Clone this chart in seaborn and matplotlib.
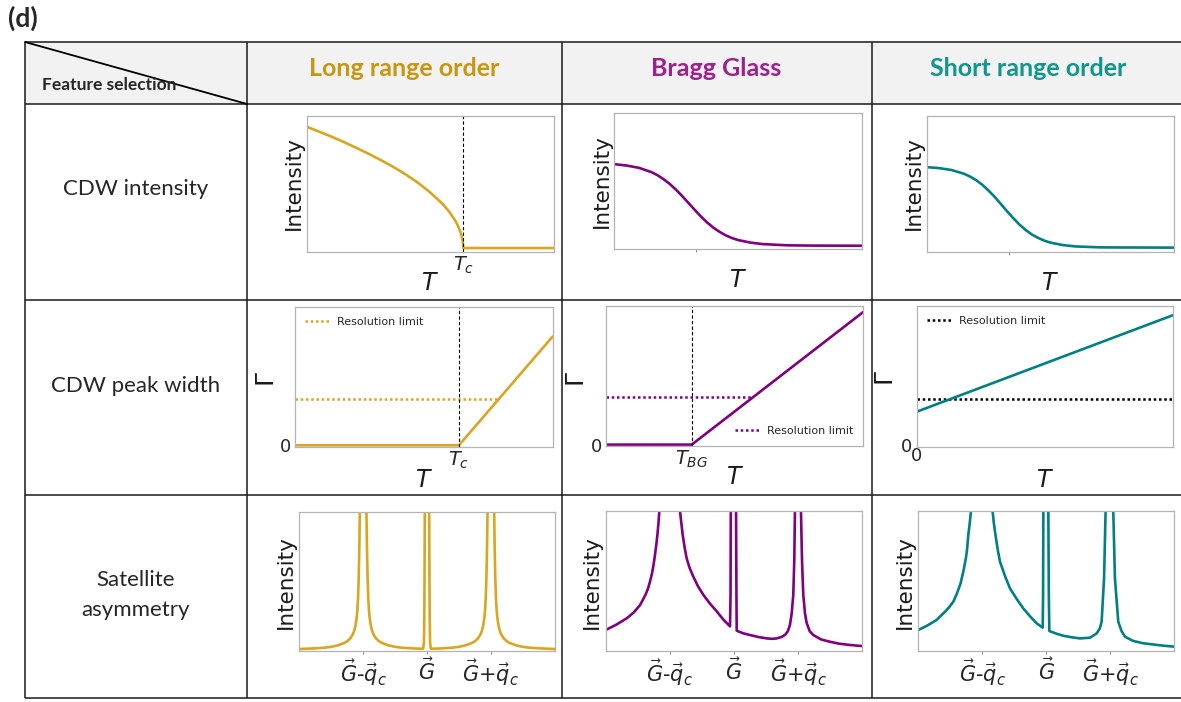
import matplotlib
matplotlib.use("Agg")
import matplotlib.pyplot as plt
import seaborn as sns
from matplotlib.patches import Rectangle

sns.set_style("white")
plt.rcParams["font.family"] = ["DejaVu Sans"]
plt.rcParams["mathtext.fontset"] = "dejavusans"

W, H = 1181, 702
TABLE_FONT = ["Lato", "DejaVu Sans"]

# ---------------- data ----------------
panel_tag = "(d)"
corner_label = "Feature selection"
phases = ["Long range order", "Bragg Glass", "Short range order"]
phase_title_colors = ["#C8960F", "#A0208E", "#10968C"]
phase_line_colors = ["goldenrod", "purple", "teal"]
features = ["CDW intensity", "CDW peak width", "Satellite\nasymmetry"]

# Row 1: CDW intensity vs T (normalised units)
T_int_lro = [0.0, 0.05, 0.10, 0.15, 0.20, 0.25, 0.30, 0.35, 0.40, 0.45,
             0.50, 0.55, 0.575, 0.60, 0.61, 0.62, 0.628, 0.631, 0.633, 0.70,
             0.80, 0.90, 1.0]
I_int_lro = [0.921, 0.885, 0.848, 0.808, 0.766, 0.722, 0.675, 0.625, 0.570, 0.508,
             0.436, 0.351, 0.298, 0.231, 0.197, 0.155, 0.107, 0.077, 0.027, 0.027,
             0.027, 0.027, 0.027]
Tc_lro_int = 0.633

T_int_smooth = [0.0, 0.05, 0.10, 0.15, 0.175, 0.20, 0.225, 0.25, 0.275, 0.30,
                0.325, 0.35, 0.375, 0.40, 0.425, 0.45, 0.475, 0.50, 0.55, 0.60,
                0.70, 0.80, 1.0]
I_int_bg = [0.624, 0.614, 0.597, 0.566, 0.543, 0.513, 0.478, 0.436, 0.389, 0.339,
            0.289, 0.240, 0.196, 0.158, 0.127, 0.101, 0.081, 0.066, 0.047, 0.036,
            0.027, 0.025, 0.024]
I_int_sro = [0.623, 0.616, 0.602, 0.575, 0.554, 0.527, 0.493, 0.451, 0.404, 0.351,
             0.298, 0.247, 0.200, 0.160, 0.127, 0.102, 0.082, 0.067, 0.049, 0.039,
             0.032, 0.031, 0.030]
crossover_bg = 0.33
crossover_sro = 0.334

# Row 2: CDW peak width (Gamma) vs T
T_w_lro = [0.0, 0.636, 1.0]
G_w_lro = [0.0, 0.0, 0.785]
res_T_lro = [0.0, 0.79]
res_lro = [0.335, 0.335]
Tc_lro_w = 0.636

T_w_bg = [0.0, 0.334, 1.0]
G_w_bg = [0.0, 0.0, 0.955]
res_T_bg = [0.0, 0.57]
res_bg = [0.34, 0.34]
T_bg = 0.334

T_w_sro = [0.0, 1.0]
G_w_sro = [0.241, 0.935]
res_T_sro = [0.0, 1.0]
res_sro = [0.334, 0.334]

# Row 3: satellite intensity vs momentum (G - q_c, G, G + q_c at -0.5, 0, 0.5)
q_ticks = [-0.5, 0.0, 0.5]
q_ticklabels = [r"$\vec{G}$-$\vec{q}_c$", r"$\vec{G}$", r"$\vec{G}$+$\vec{q}_c$"]

k_lro = [-1.0, -0.9, -0.8, -0.75, -0.7, -0.65, -0.625, -0.6, -0.58, -0.57,
         -0.56, -0.55, -0.545, -0.54, -0.535, -0.53, -0.526, -0.5, -0.474, -0.47,
         -0.465, -0.46, -0.455, -0.45, -0.44, -0.43, -0.42, -0.4, -0.375, -0.35,
         -0.3, -0.25, -0.2, -0.1, -0.03, -0.024, -0.021, -0.019, -0.017, 0.0,
         0.017, 0.019, 0.021, 0.024, 0.03, 0.1, 0.2, 0.25, 0.3, 0.35,
         0.375, 0.4, 0.42, 0.43, 0.44, 0.45, 0.455, 0.46, 0.465, 0.47,
         0.474, 0.5, 0.526, 0.53, 0.535, 0.54, 0.545, 0.55, 0.56, 0.57,
         0.58, 0.6, 0.625, 0.65, 0.7, 0.75, 0.8, 0.9, 1.0]
S_lro = [0.012, 0.016, 0.022, 0.028, 0.038, 0.055, 0.068, 0.09, 0.12, 0.145,
         0.18, 0.245, 0.30, 0.38, 0.52, 0.74, 1.0, 3.0, 1.0, 0.74,
         0.52, 0.38, 0.30, 0.245, 0.18, 0.145, 0.12, 0.09, 0.068, 0.055,
         0.038, 0.028, 0.022, 0.016, 0.014, 0.06, 0.25, 0.6, 1.0, 3.0,
         1.0, 0.6, 0.25, 0.06, 0.014, 0.016, 0.022, 0.028, 0.038, 0.055,
         0.068, 0.09, 0.12, 0.145, 0.18, 0.245, 0.30, 0.38, 0.52, 0.74,
         1.0, 3.0, 1.0, 0.74, 0.52, 0.38, 0.30, 0.245, 0.18, 0.145,
         0.12, 0.09, 0.068, 0.055, 0.038, 0.028, 0.022, 0.016, 0.012]

k_bg = [-1.0, -0.92, -0.836, -0.78, -0.732, -0.69, -0.67, -0.655, -0.64, -0.627,
        -0.616, -0.606, -0.597, -0.589, -0.582, -0.5, -0.421, -0.41, -0.40, -0.385,
        -0.369, -0.345, -0.317, -0.28, -0.239, -0.19, -0.135, -0.085, -0.031, -0.027,
        -0.025, 0.0, 0.016, 0.019, 0.021, 0.07, 0.125, 0.19, 0.255, 0.30,
        0.332, 0.37, 0.40, 0.42, 0.436, 0.45, 0.462, 0.47, 0.475, 0.501,
        0.522, 0.53, 0.54, 0.553, 0.566, 0.59, 0.618, 0.68, 0.748, 0.82,
        0.904, 1.0]
S_bg = [0.148, 0.185, 0.232, 0.275, 0.327, 0.40, 0.445, 0.494, 0.55, 0.615,
        0.685, 0.755, 0.83, 0.91, 1.0, 3.0, 1.0, 0.91, 0.83, 0.74,
        0.661, 0.59, 0.53, 0.46, 0.40, 0.34, 0.282, 0.225, 0.174, 0.4,
        1.0, 3.0, 1.0, 0.4, 0.143, 0.125, 0.112, 0.098, 0.088, 0.085,
        0.088, 0.098, 0.115, 0.14, 0.184, 0.27, 0.4, 0.65, 1.0, 3.0,
        1.0, 0.65, 0.4, 0.27, 0.2, 0.14, 0.112, 0.08, 0.064, 0.05,
        0.041, 0.033]

k_sro = [-1.0, -0.93, -0.857, -0.79, -0.76, -0.726, -0.70, -0.67, -0.648, -0.63,
         -0.619, -0.609, -0.598, -0.588, -0.497, -0.419, -0.41, -0.400, -0.38, -0.361,
         -0.32, -0.283, -0.23, -0.179, -0.125, -0.074, -0.027, -0.024, -0.022, 0.0,
         0.017, 0.021, 0.025, 0.08, 0.134, 0.2, 0.265, 0.343, 0.395, 0.42,
         0.434, 0.453, 0.465, 0.505, 0.525, 0.538, 0.564, 0.59, 0.617, 0.68,
         0.760, 0.917, 1.0]
S_sro = [0.148, 0.18, 0.22, 0.28, 0.31, 0.351, 0.405, 0.48, 0.566, 0.65,
         0.72, 0.828, 0.91, 1.0, 3.0, 1.0, 0.92, 0.852, 0.73, 0.637,
         0.53, 0.446, 0.37, 0.303, 0.245, 0.196, 0.165, 0.4, 1.0, 3.0,
         1.0, 0.4, 0.141, 0.122, 0.107, 0.096, 0.088, 0.093, 0.124, 0.16,
         0.208, 0.518, 1.0, 3.0, 1.0, 0.518, 0.208, 0.14, 0.1, 0.07,
         0.053, 0.036, 0.029]

# ---------------- figure / table ----------------
fig = plt.figure(figsize=(W / 100, H / 100), dpi=100)
bg = fig.add_axes([0, 0, 1, 1], zorder=0)
bg.set_xlim(0, W)
bg.set_ylim(H, 0)
bg.axis("off")

x_left, x_c1, x_c2, x_c3, x_right = 25, 247, 562, 872, 1181
y_top, y_head, y_r1, y_r2, y_bot = 42, 104, 300, 495, 698
bg.add_patch(Rectangle((x_left, y_top), x_right - x_left, y_head - y_top,
                       facecolor="#f2f2f2", edgecolor="none"))
lc, lw_t = "#1a1a1a", 1.1
for yy in (y_top, y_head, y_r1, y_r2, y_bot):
    bg.plot([x_left, x_right], [yy, yy], color=lc, lw=lw_t, solid_capstyle="butt")
for xx in (x_left, x_c1, x_c2, x_c3):
    bg.plot([xx, xx], [y_top, y_bot], color=lc, lw=lw_t, solid_capstyle="butt")
bg.plot([x_left, x_c1], [y_top, y_head], color="k", lw=1.3)

bg.text(8, 18, panel_tag, fontsize=19, fontweight="bold", family=TABLE_FONT,
        ha="left", va="center")
bg.text(42, 85, corner_label, fontsize=12.5, fontweight="bold", family=TABLE_FONT,
        ha="left", va="center")
for name, col, cx in zip(phases, phase_title_colors, [404, 716, 1028]):
    bg.text(cx, 68, name, fontsize=18, fontweight="bold", color=col,
            family=TABLE_FONT, ha="center", va="center")
for name, cy in zip(features, [189, 386, 595]):
    bg.text(136, cy, name, fontsize=16, family=TABLE_FONT, ha="center",
            va="center", linespacing=1.6)

SPINE = "#b3b3b3"
TXT = "#1a1a1a"


def px_axes(box):
    l, t, r, b = box
    ax = fig.add_axes([l / W, 1 - b / H, (r - l) / W, (b - t) / H], zorder=2)
    ax.set_facecolor("white")
    for s in ax.spines.values():
        s.set_color(SPINE)
        s.set_linewidth(0.9)
    ax.set_xticks([])
    ax.set_yticks([])
    return ax


def frac(box, xpx, ypx):
    l, t, r, b = box
    return (xpx - l) / (r - l), (b - ypx) / (b - t)


def ylabel_px(ax, box, text, xpx, ypx, size=15.5):
    fx, fy = frac(box, xpx, ypx)
    ax.text(fx, fy, text, transform=ax.transAxes, rotation=90,
            rotation_mode="anchor", ha="center", va="center", fontsize=size,
            color=TXT, clip_on=False)


def xlabel_px(ax, box, text, xpx, ypx, size=17):
    fx, fy = frac(box, xpx, ypx)
    ax.text(fx, fy, text, transform=ax.transAxes, ha="center", va="center",
            fontsize=size, color=TXT, clip_on=False)


def curve(ax, x, y, color, lw=1.9):
    sns.lineplot(x=x, y=y, ax=ax, color=color, lw=lw, estimator=None, sort=False)


def dotted(ax, x, y, color, label):
    sns.lineplot(x=x, y=y, ax=ax, color=color, lw=1.8, estimator=None,
                 sort=False, label=label)
    ax.lines[-1].set_linestyle((0, (1, 1.1)))


# ----- Row 1 -----
boxes_r1 = [(306.7, 116, 554, 251.7), (614, 113, 862, 249), (926.7, 116, 1174, 251.7)]
ylab_r1 = [(294, 183), (602, 181), (914, 183)]
xlab_r1 = [(430, 283), (738, 280), (1050, 283)]
int_data = [(T_int_lro, I_int_lro), (T_int_smooth, I_int_bg), (T_int_smooth, I_int_sro)]
for i, box in enumerate(boxes_r1):
    ax = px_axes(box)
    curve(ax, int_data[i][0], int_data[i][1], phase_line_colors[i])
    ax.set_xlim(0, 1)
    ax.set_ylim(0, 1)
    ylabel_px(ax, box, "Intensity", *ylab_r1[i])
    xlabel_px(ax, box, "$T$", *xlab_r1[i])
    if i == 0:
        ax.axvline(Tc_lro_int, color="k", lw=0.8, ls=(0, (3, 2)))
        ax.set_xticks([Tc_lro_int], [r"$T_c$"])
        ax.tick_params(axis="x", bottom=True, length=0, pad=2, labelsize=14)
    else:
        ax.set_xticks([crossover_bg if i == 1 else crossover_sro], [""])
        ax.tick_params(axis="x", bottom=True, length=2, width=0.6, color="#777777")

# ----- Row 2 -----
boxes_r2 = [(295, 306.7, 552.7, 446.7), (605.7, 305.7, 863.3, 446), (916.7, 306, 1173.3, 446.7)]
ylab_r2 = [(267, 379), (577, 379), (886, 378)]
xlab_r2 = [(424, 480), (735, 477), (1045, 480)]
w_data = [(T_w_lro, G_w_lro, res_T_lro, res_lro, "upper left"),
          (T_w_bg, G_w_bg, res_T_bg, res_bg, "lower right"),
          (T_w_sro, G_w_sro, res_T_sro, res_sro, "upper left")]
for i, box in enumerate(boxes_r2):
    ax = px_axes(box)
    T, G, rT, rG, loc = w_data[i]
    res_color = phase_line_colors[i] if i < 2 else "black"
    dotted(ax, rT, rG, res_color, "Resolution limit")
    curve(ax, T, G, phase_line_colors[i])
    ax.set_xlim(0, 1)
    ax.set_ylim(-0.01, 1.0)
    ylabel_px(ax, box, r"$\Gamma$", *ylab_r2[i], size=18)
    xlabel_px(ax, box, "$T$", *xlab_r2[i])
    ax.legend(loc=loc, frameon=False, fontsize=8, handlelength=2.2,
              handletextpad=0.7)
    ax.set_yticks([0], ["0"])
    ax.tick_params(axis="y", left=True, length=0, pad=2.5, labelsize=13)
    if i == 0:
        ax.axvline(Tc_lro_w, color="k", lw=0.8, ls=(0, (3, 2)))
        ax.set_xticks([Tc_lro_w], [r"$T_c$"])
        ax.tick_params(axis="x", bottom=True, length=0, pad=2, labelsize=14)
    elif i == 1:
        ax.axvline(T_bg, color="k", lw=0.8, ls=(0, (3, 2)))
        ax.set_xticks([T_bg], [r"$T_{BG}$"])
        ax.tick_params(axis="x", bottom=True, length=0, pad=2, labelsize=14)
    else:
        ax.set_xticks([0], ["0"])
        ax.tick_params(axis="x", bottom=True, length=0, pad=0.5, labelsize=13)
        ax.tick_params(axis="y", pad=3.5)

# ----- Row 3 -----
boxes_r3 = [(299.3, 512.3, 554.7, 650.7), (605.7, 511, 862.3, 650.7), (918.3, 511, 1174, 650.7)]
ylab_r3 = [(286, 582), (592, 582), (905, 582)]
sat_data = [(k_lro, S_lro), (k_bg, S_bg), (k_sro, S_sro)]
for i, box in enumerate(boxes_r3):
    ax = px_axes(box)
    curve(ax, sat_data[i][0], sat_data[i][1], phase_line_colors[i])
    ax.set_xlim(-1, 1)
    ax.set_ylim(0, 1)
    ylabel_px(ax, box, "Intensity", *ylab_r3[i])
    ax.set_xticks(q_ticks, q_ticklabels)
    ax.tick_params(axis="x", bottom=True, length=2, width=0.6, color="#777777",
                   pad=3, labelsize=15)

fig.savefig("out.png", dpi=100)
